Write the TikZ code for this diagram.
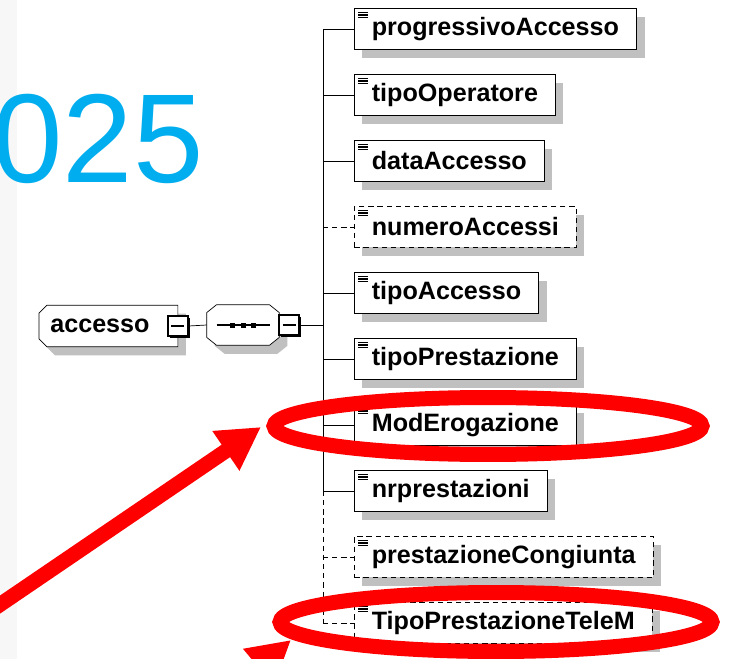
\documentclass[tikz,border=0pt]{standalone}
\usepackage{fontspec}
\setmainfont{Liberation Sans}
\usetikzlibrary{arrows.meta,shadows,backgrounds}

\definecolor{annoblue}{RGB}{0,174,239}
\definecolor{panelgray}{RGB}{247,247,247}
\definecolor{shadegray}{RGB}{192,192,192}

\begin{document}
\begin{tikzpicture}[x=0.02cm, y=-0.02cm, line width=1.3pt,
    every node/.style={font=\fontsize{14.3}{16}\selectfont\bfseries},
    boxshadow/.style={drop shadow={shadow xshift=0.16cm, shadow yshift=-0.17cm, fill=shadegray, opacity=1}},
    optline/.style={dash pattern=on 3pt off 2.2pt},
    elem/.style={draw, fill=white, anchor=west, minimum height=0.82cm,
        inner xsep=0.35cm, inner ysep=0, boxshadow,
        path picture={\foreach \k in {0,1,2}
            \draw[solid, line width=0.6pt] ([xshift=0.08cm, yshift=-0.08cm-\k*0.05cm]path picture bounding box.north west) -- ++(0.2cm,0);}},
    optelem/.style={elem, optline},
    minusbox/.style={draw, fill=white, minimum size=0.4cm, inner sep=0, line width=1pt,
        drop shadow={shadow xshift=0.04cm, shadow yshift=-0.04cm, fill=black, opacity=1},
        path picture={\draw[line width=0.8pt] ([xshift=0.07cm]path picture bounding box.west) -- ([xshift=-0.07cm]path picture bounding box.east);}},
    redring/.style={draw=red, line width=0.3cm},
    redarrow/.style={draw=red, line width=0.3cm, -{Triangle[length=0.85cm, width=0.9cm]}}]

	% Fondo
	\useasboundingbox (0,0) rectangle (755,659);
	\clip (0,0) rectangle (755,659);
	\begin{pgfonlayer}{background}
		\fill[white] (0,0) rectangle (755,659);
		\fill[panelgray] (0,0) rectangle (17,659);
	\end{pgfonlayer}

	% Anno
	\node[font=\fontsize{72}{72}\selectfont, text=annoblue, anchor=base west, inner sep=0] (year) at (-8,182) {025};

	% Elemento e sequenza
	\node[anchor=west, minimum height=0.82cm, minimum width=2.72cm,
		inner xsep=0.22cm, inner ysep=0] (accesso) at (39,326) {accesso\hspace{0.34cm}\null};
	\node[minimum width=1.44cm, minimum height=0.8cm, inner sep=0] (sequence) at (243,325) {};
	\begin{pgfonlayer}{background}
		\draw[fill=white, boxshadow] ([xshift=0.16cm]accesso.north west) -- (accesso.north east)
			-- (accesso.south east) -- ([xshift=0.16cm]accesso.south west)
			-- ([yshift=0.16cm]accesso.south west) -- ([yshift=-0.16cm]accesso.north west) -- cycle;
		\draw[fill=white, boxshadow] ([xshift=0.2cm]sequence.north west) -- ([xshift=-0.2cm]sequence.north east)
			-- ([yshift=-0.16cm]sequence.north east) -- ([yshift=0.16cm]sequence.south east)
			-- ([xshift=-0.2cm]sequence.south east) -- ([xshift=0.2cm]sequence.south west)
			-- ([yshift=0.16cm]sequence.south west) -- ([yshift=-0.16cm]sequence.north west) -- cycle;
	\end{pgfonlayer}
	\draw[line width=0.8pt] ([xshift=0.2cm]sequence.west) -- ([xshift=-0.18cm]sequence.east);
	\foreach \d in {-0.22,0,0.22}
		\fill[black] ([xshift=\d cm]sequence.center) +(-0.05cm,-0.05cm) rectangle +(0.05cm,0.05cm);

	\node[minusbox] (accessoMinus) at (accesso.east) {};
	\node[minusbox, anchor=west] (seqMinus) at ([xshift=-0.02cm]sequence.east) {};

	\coordinate (trunk) at (323,29);

	% Figli
	\node[elem] (progressivo) at (354,29) {progressivoAccesso};
	\node[elem] (tipoOp) at (354,95) {tipoOperatore};
	\node[elem] (data) at (354,161) {dataAccesso};
	\node[optelem] (numero) at (354,227) {numeroAccessi};
	\node[elem] (tipoAcc) at (354,293) {tipoAccesso};
	\node[elem] (tipoPrest) at (354,359) {tipoPrestazione};
	\node[elem] (modErog) at (354,425) {ModErogazione};
	\node[elem] (nrPrest) at (354,491) {nrprestazioni};
	\node[optelem] (congiunta) at (354,557) {prestazioneCongiunta};
	\node[optelem] (teleM) at (354,623) {TipoPrestazioneTeleM};

	% Collegamenti
	\draw (accessoMinus.east) -- (sequence.west);
	\draw (seqMinus.east) -- (trunk |- seqMinus.east);
	\draw (trunk |- progressivo.west) -- (trunk |- nrPrest.west);
	\draw[optline] (trunk |- nrPrest.west) -- (trunk |- teleM.west);

	\draw (trunk |- progressivo.west) -- (progressivo.west);
	\draw (trunk |- tipoOp.west) -- (tipoOp.west);
	\draw (trunk |- data.west) -- (data.west);
	\draw[optline] (trunk |- numero.west) -- (numero.west);
	\draw (trunk |- tipoAcc.west) -- (tipoAcc.west);
	\draw (trunk |- tipoPrest.west) -- (tipoPrest.west);
	\draw (trunk |- modErog.west) -- (modErog.west);
	\draw (trunk |- nrPrest.west) -- (nrPrest.west);
	\draw[optline] (trunk |- congiunta.west) -- (congiunta.west);
	\draw[optline] (trunk |- teleM.west) -- (teleM.west);

	% Evidenziazioni
	\draw[redring] (488,426) ellipse [x radius=4.28cm, y radius=0.57cm];
	\draw[redring] (496,622) ellipse [x radius=4.32cm, y radius=0.59cm];

	\coordinate (tailA) at (-30,625);
	\coordinate (headA) at (261,427);
	\coordinate (tailB) at (137,769);
	\coordinate (headB) at (291,640);
	\draw[redarrow] (tailA) -- (headA);
	\draw[redarrow] (tailB) -- (headB);
\end{tikzpicture}
\end{document}
